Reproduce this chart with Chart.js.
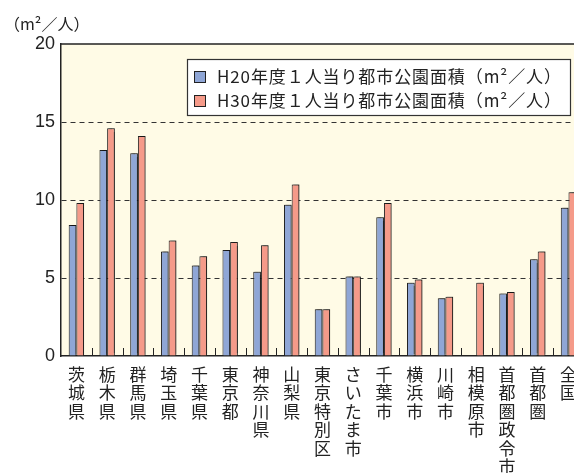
<!DOCTYPE html>
<html>
<head>
<meta charset="utf-8">
<script src="https://cdn.jsdelivr.net/npm/chart.js@4/dist/chart.umd.min.js"></script>
<style>
  html, body { margin: 0; padding: 0; background: #fff; overflow: hidden; width: 574px; height: 473px; }
  canvas { display: block; }
</style>
</head>
<body>
<canvas id="c" width="586" height="473"></canvas>
<script>
// Urban park area per resident, by prefecture / city (m² per person)
const categories = ['茨城県', '栃木県', '群馬県', '埼玉県', '千葉県', '東京都', '神奈川県', '山梨県',
  '東京特別区', 'さいたま市', '千葉市', '横浜市', '川崎市', '相模原市', '首都圏政令市', '首都圏', '全国'];
const h20Values = [8.4, 13.2, 13.0, 6.7, 5.8, 6.8, 5.4, 9.7, 3.0, 5.1, 8.9, 4.7, 3.7, null, 4.0, 6.2, 9.5];
const h30Values = [9.8, 14.6, 14.1, 7.4, 6.4, 7.3, 7.1, 11.0, 3.0, 5.1, 9.8, 4.9, 3.8, 4.7, 4.1, 6.7, 10.5];
const yTickValues = [0, 5, 10, 15, 20];
const seriesNames = ['H20年度１人当り都市公園面積（m²／人）', 'H30年度１人当り都市公園面積（m²／人）'];
const unitLabel = '（m²／人）';

const BLUE = '#8fa6d6';
const SALMON = '#f59a89';
const CREAM = '#fffbe6';
const INK = '#222222';
const JP_FONT = '"Noto Sans CJK JP", "Noto Sans", sans-serif';

// Cream plot background
const plotBackground = {
  id: 'plotBackground',
  beforeDraw(chart) {
    const { ctx, chartArea: a } = chart;
    ctx.save();
    ctx.fillStyle = CREAM;
    ctx.fillRect(a.left, a.top, a.right - a.left, a.bottom - a.top);
    ctx.restore();
  }
};

// Soft shadow behind the bars
const barShadow = {
  id: 'barShadow',
  beforeDatasetsDraw(chart) {
    const ctx = chart.ctx;
    ctx.save();
    ctx.shadowColor = 'rgba(0,0,0,0.5)';
    ctx.shadowBlur = 1.5;
    ctx.shadowOffsetX = 1.5;
    ctx.shadowOffsetY = -1;
  },
  afterDatasetsDraw(chart) {
    chart.ctx.restore();
  }
};

// Top frame line, short inner ticks between categories, legend box and unit label
const decorations = {
  id: 'decorations',
  afterDraw(chart) {
    const { ctx, chartArea: a, scales } = chart;
    const x = scales.x, y = scales.y;
    ctx.save();

    // top frame at the axis maximum
    ctx.strokeStyle = INK;
    ctx.lineWidth = 1.5;
    const yTop = y.getPixelForValue(y.max);
    ctx.beginPath();
    ctx.moveTo(a.left, yTop);
    ctx.lineTo(a.right, yTop);
    ctx.stroke();

    // inner tick marks on category boundaries
    ctx.lineWidth = 1;
    for (let i = 1; i < categories.length; i++) {
      const bx = Math.round((x.getPixelForValue(i - 1) + x.getPixelForValue(i)) / 2) + 0.5;
      ctx.beginPath();
      ctx.moveTo(bx, a.bottom);
      ctx.lineTo(bx, a.bottom - 8);
      ctx.stroke();
    }

    // legend
    const box = { left: 187.5, top: 59.5, right: 570.5, bottom: 115.5 };
    ctx.fillStyle = '#ffffff';
    ctx.fillRect(box.left, box.top, box.right - box.left, box.bottom - box.top);
    ctx.strokeStyle = '#333';
    ctx.lineWidth = 1.2;
    ctx.strokeRect(box.left, box.top, box.right - box.left, box.bottom - box.top);

    const rows = [77, 101];
    chart.data.datasets.forEach((ds, i) => {
      const cy = rows[i];
      ctx.fillStyle = ds.backgroundColor;
      ctx.fillRect(194, cy - 6, 12, 12);
      ctx.strokeStyle = INK;
      ctx.lineWidth = 1;
      ctx.strokeRect(194.5, cy - 5.5, 11, 11);
      ctx.fillStyle = INK;
      ctx.font = '17px ' + JP_FONT;
      ctx.letterSpacing = '0.9px';
      ctx.textBaseline = 'middle';
      ctx.textAlign = 'left';
      ctx.fillText(ds.label, 217, cy);
    });

    // unit label above the axis
    ctx.letterSpacing = '0px';
    ctx.fillStyle = INK;
    ctx.font = '16px ' + JP_FONT;
    ctx.textBaseline = 'middle';
    ctx.textAlign = 'left';
    ctx.fillText(unitLabel, 4, 24);

    ctx.restore();
  }
};

new Chart(document.getElementById('c'), {
  type: 'bar',
  data: {
    labels: categories.map(name => Array.from(name)),
    datasets: [
      { label: seriesNames[0], data: h20Values, backgroundColor: BLUE, borderColor: INK, borderWidth: 1 },
      { label: seriesNames[1], data: h30Values, backgroundColor: SALMON, borderColor: INK, borderWidth: 1 }
    ]
  },
  options: {
    responsive: false,
    animation: false,
    devicePixelRatio: 1,
    layout: { padding: { top: 44, right: 1, left: 0, bottom: 0 } },
    datasets: { bar: { categoryPercentage: 0.5, barPercentage: 1.0 } },
    plugins: { legend: { display: false }, tooltip: { enabled: false } },
    scales: {
      x: {
        offset: true,
        grid: { display: false, drawTicks: false },
        border: { display: true, color: INK, width: 1.5 },
        ticks: {
          autoSkip: false, maxRotation: 0, minRotation: 0, padding: 9,
          color: INK, font: { family: JP_FONT, size: 17, lineHeight: 1.09 }
        },
        afterFit(scale) { scale.height = 117; }
      },
      y: {
        min: 0, max: 20,
        afterBuildTicks(scale) { scale.ticks = yTickValues.map(v => ({ value: v })); },
        grid: {
          drawTicks: false,
          lineWidth: 1,
          color: c => (c.tick && c.tick.value > 0 && c.tick.value < 20) ? '#333' : 'rgba(0,0,0,0)'
        },
        border: { display: true, color: INK, width: 1.5, dash: [5, 4] },
        ticks: {
          padding: 6, color: INK,
          font: { family: '"Liberation Sans", Arial, sans-serif', size: 18 }
        },
        afterFit(scale) { scale.width = 61; }
      }
    }
  },
  plugins: [plotBackground, barShadow, decorations]
});
</script>
</body>
</html>
